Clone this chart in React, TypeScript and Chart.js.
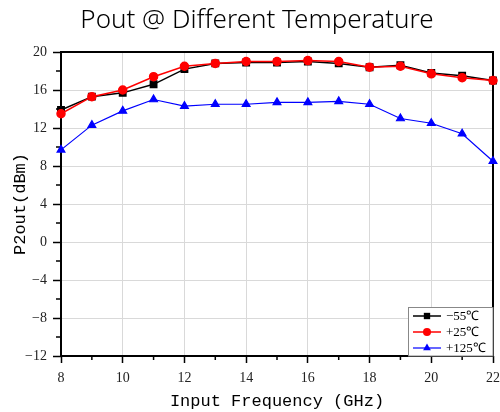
import React, { useEffect, useRef } from 'react';
import { Chart, registerables } from 'chart.js';

Chart.register(...registerables);

const TITLE = 'Pout @ Different Temperature';
const X_TITLE = 'Input Frequency (GHz)';
const Y_TITLE = 'P2out(dBm)';

const frequencies = [8, 9, 10, 11, 12, 13, 14, 15, 16, 17, 18, 19, 20, 21, 22];
const minus55 = [13.9, 15.3, 15.7, 16.6, 18.2, 18.8, 18.9, 18.9, 19.0, 18.8, 18.4, 18.6, 17.8, 17.5, 17.0];
const plus25 = [13.5, 15.3, 16.0, 17.4, 18.5, 18.8, 19.0, 19.0, 19.1, 19.0, 18.4, 18.5, 17.7, 17.3, 17.0];
const plus125 = [9.7, 12.3, 13.8, 15.0, 14.3, 14.5, 14.5, 14.7, 14.7, 14.8, 14.5, 13.0, 12.5, 11.4, 8.5];
const seriesLabels = ['\u221255\u2103', '+25\u2103', '+125\u2103'];

const X_MIN = 8;
const X_MAX = 22;
const X_STEP = 2;
const Y_MIN = -12;
const Y_MAX = 20;
const Y_STEP = 4;

const SERIF = '"Liberation Serif", "Times New Roman", serif';
const MONO = '"Liberation Mono", "Courier New", monospace';

function fmt(v: number): string {
  return v < 0 ? '\u2212' + Math.abs(v) : String(v);
}

function drawMarker(ctx: CanvasRenderingContext2D, style: string, x: number, y: number, r: number, color: string) {
  ctx.fillStyle = color;
  ctx.beginPath();
  if (style === 'rect') {
    const s = Math.SQRT1_2 * r;
    ctx.rect(x - s, y - s, 2 * s, 2 * s);
  } else if (style === 'triangle') {
    ctx.moveTo(x, y - r);
    ctx.lineTo(x + r * 0.866, y + r * 0.5);
    ctx.lineTo(x - r * 0.866, y + r * 0.5);
    ctx.closePath();
  } else {
    ctx.arc(x, y, r, 0, Math.PI * 2);
  }
  ctx.fill();
}

const decorPlugin = {
  id: 'decor',
  beforeDatasetsDraw(chart: any) {
    const { ctx, chartArea: a, scales } = chart;
    ctx.save();
    ctx.strokeStyle = '#000';
    ctx.lineWidth = 1.5;
    ctx.beginPath();
    for (let v = X_MIN + X_STEP / 2; v < X_MAX; v += X_STEP) {
      const px = scales.x.getPixelForValue(v);
      ctx.moveTo(px, a.bottom);
      ctx.lineTo(px, a.bottom + 4);
    }
    for (let v = Y_MIN + Y_STEP / 2; v < Y_MAX; v += Y_STEP) {
      const py = scales.y.getPixelForValue(v);
      ctx.moveTo(a.left, py);
      ctx.lineTo(a.left - 5, py);
    }
    ctx.stroke();
    ctx.lineWidth = 2;
    ctx.strokeRect(a.left, a.top, a.right - a.left, a.bottom - a.top);
    ctx.restore();
  },
  afterDraw(chart: any) {
    const { ctx, chartArea: a } = chart;
    ctx.save();
    // title
    ctx.fillStyle = '#000';
    ctx.font = '300 26px "Noto Sans", sans-serif';
    ctx.textAlign = 'center';
    ctx.textBaseline = 'alphabetic';
    ctx.fillText(TITLE, 257, 28);

    // legend
    const bx = 408.5;
    const by = 307.5;
    const bw = a.right - bx;
    const bh = a.bottom - by;
    ctx.fillStyle = '#fff';
    ctx.fillRect(bx, by, bw, bh);
    ctx.strokeStyle = '#888';
    ctx.lineWidth = 1;
    ctx.strokeRect(bx, by, bw, bh);
    const dsets = chart.data.datasets;
    dsets.forEach((ds: any, i: number) => {
      const y = by + 8.5 + i * 16;
      ctx.strokeStyle = ds.borderColor;
      ctx.lineWidth = ds.borderWidth;
      ctx.beginPath();
      ctx.moveTo(413, y);
      ctx.lineTo(441, y);
      ctx.stroke();
      drawMarker(ctx, ds.pointStyle, 427, y, ds.pointRadius, ds.pointBackgroundColor);
      ctx.fillStyle = '#000';
      ctx.font = '13px ' + SERIF;
      ctx.textAlign = 'left';
      ctx.textBaseline = 'middle';
      ctx.fillText(ds.label, 446, y + 0.5);
    });
    ctx.restore();
  },
};

function toPoints(ys: number[]) {
  return frequencies.map((f, i) => ({ x: f, y: ys[i] }));
}

export default function App() {
  const ref = useRef<HTMLCanvasElement | null>(null);
  useEffect(() => {
    if (!ref.current) return;
    const chart = new Chart(ref.current, {
      type: 'line',
      data: {
        datasets: [
          {
            label: seriesLabels[0],
            data: toPoints(minus55),
            borderColor: '#000000',
            backgroundColor: '#000000',
            pointBackgroundColor: '#000000',
            pointBorderColor: '#000000',
            pointStyle: 'rect',
            pointRadius: 4.5,
            borderWidth: 1.5,
            order: 1,
            clip: false,
          },
          {
            label: seriesLabels[1],
            data: toPoints(plus25),
            borderColor: '#ff0000',
            backgroundColor: '#ff0000',
            pointBackgroundColor: '#ff0000',
            pointBorderColor: '#ff0000',
            pointStyle: 'circle',
            pointRadius: 4,
            borderWidth: 1.5,
            order: 0,
            clip: false,
          },
          {
            label: seriesLabels[2],
            data: toPoints(plus125),
            borderColor: '#0000ff',
            backgroundColor: '#0000ff',
            pointBackgroundColor: '#0000ff',
            pointBorderColor: '#0000ff',
            pointStyle: 'triangle',
            pointRadius: 4.5,
            borderWidth: 1.2,
            order: 2,
            clip: false,
          },
        ] as any,
      },
      options: {
        animation: false,
        responsive: false,
        devicePixelRatio: 1,
        layout: { padding: { top: 52, right: 7, bottom: 0, left: 0 } },
        plugins: {
          legend: { display: false },
          title: { display: false },
          tooltip: { enabled: false },
        },
        elements: { line: { tension: 0 } },
        scales: {
          x: {
            type: 'linear',
            min: X_MIN,
            max: X_MAX,
            ticks: {
              stepSize: X_STEP,
              font: { family: SERIF, size: 14 },
              color: '#222',
              padding: 7,
              maxRotation: 0,
              autoSkip: false,
              callback: (v: any) => fmt(Number(v)),
            },
            grid: { color: '#d9d9d9', lineWidth: 1, tickColor: '#000', tickLength: 7, tickWidth: 1.5 },
            border: { display: false },
            title: {
              display: true,
              text: X_TITLE,
              font: { family: MONO, size: 17 },
              color: '#000',
              padding: { top: 0, bottom: 0 },
            },
            afterFit(scale: any) {
              scale.height = 56;
              scale.paddingLeft = 0;
              scale.paddingRight = 0;
            },
          },
          y: {
            type: 'linear',
            min: Y_MIN,
            max: Y_MAX,
            ticks: {
              stepSize: Y_STEP,
              font: { family: SERIF, size: 14 },
              color: '#222',
              padding: 6,
              callback: (v: any) => fmt(Number(v)),
            },
            grid: { color: '#d9d9d9', lineWidth: 1, tickColor: '#000', tickLength: 8, tickWidth: 1.5 },
            border: { display: false },
            title: {
              display: true,
              text: Y_TITLE,
              font: { family: MONO, size: 17 },
              color: '#000',
              padding: { top: 10, bottom: 0 },
            },
            afterFit(scale: any) {
              scale.width = 61;
              scale.paddingTop = 0;
              scale.paddingBottom = 0;
            },
          },
        },
      } as any,
      plugins: [decorPlugin],
    });
    return () => chart.destroy();
  }, []);

  return (
    <div style={{ position: 'absolute', left: 0, top: 0, width: 500, height: 412 }}>
      <canvas ref={ref} width={500} height={412} style={{ display: 'block' }} />
    </div>
  );
}
